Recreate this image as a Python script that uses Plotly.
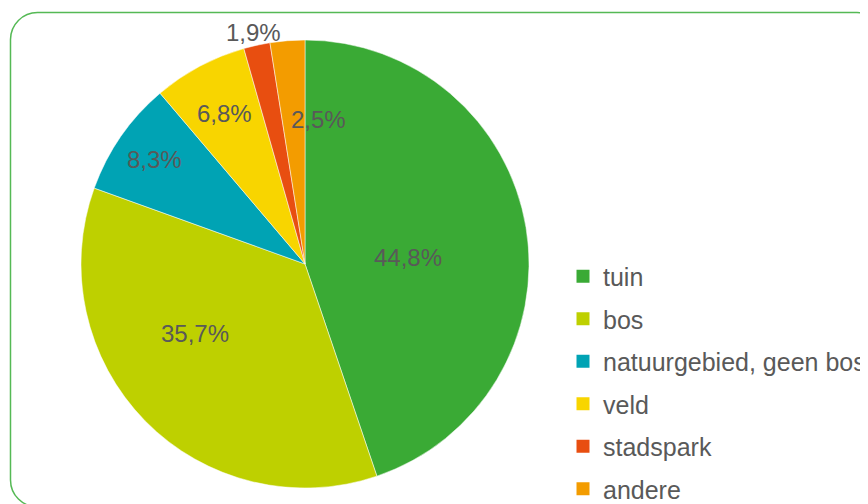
import numpy as np
import plotly.graph_objects as go

# ---- data ----
categories = ["tuin", "bos", "natuurgebied, geen bos", "veld", "stadspark", "andere"]
values = [44.8, 35.7, 8.3, 6.8, 1.9, 2.5]
value_labels = ["44,8%", "35,7%", "8,3%", "6,8%", "1,9%", "2,5%"]
colors = ["#3aaa35", "#bed000", "#00a3b4", "#f8d500", "#e84e10", "#f39c00"]

# ---- style / layout ----
W, H = 868, 504
OFF = 8  # default page body margin: figure starts 8px in from the window edge
CX, CY, R = 305 - OFF, 264 - OFF, 224
label_r = [0.46, 0.58, 0.82, 0.76, 1.06, 0.65]      # radial position of labels
label_dangle = [6, 12, 0, 0, 0, 10]                 # angular nudge (deg)
TEXT_COLOR = "#595959"
FONT = "Liberation Sans, Arial, Helvetica, sans-serif"

fig = go.Figure()

fig.add_trace(go.Pie(
    labels=categories,
    values=values,
    sort=False,
    direction="clockwise",
    rotation=0,
    marker=dict(colors=colors, line=dict(color="white", width=0.5)),
    textinfo="none",
    showlegend=False,
    hoverinfo="label+percent",
    domain=dict(x=[(CX - R) / W, (CX + R) / W], y=[1 - (CY + R) / H, 1 - (CY - R) / H]),
))

# legend entries (one group each so spacing can be tuned)
for cat, col in zip(categories, colors):
    fig.add_trace(go.Scatter(
        x=[None], y=[None], mode="markers", name=cat, legendgroup=cat,
        marker=dict(symbol="square", size=13, color=col),
        hoverinfo="skip",
    ))

# data labels at slice angles
total = float(np.sum(values))
cum = np.cumsum([0] + list(values))
annotations = []
for i, txt in enumerate(value_labels):
    mid = (cum[i] + cum[i + 1]) / 2 / total * 360 + label_dangle[i]
    a = np.deg2rad(mid)
    px = CX + R * label_r[i] * np.sin(a)
    py = CY - R * label_r[i] * np.cos(a)
    annotations.append(dict(
        x=px / W, y=1 - py / H, xref="paper", yref="paper",
        text=txt, showarrow=False, xanchor="center", yanchor="middle",
        font=dict(size=24, color=TEXT_COLOR, family=FONT),
    ))

# rounded border
L, T, Rr, B, rad = 10.5 - OFF, 12.5 - OFF, 884 - OFF, 507 - OFF, 27
k = 0.5523 * rad
def P(x, y):
    return f"{x / W:.5f},{1 - y / H:.5f}"
path = (
    f"M {P(L + rad, T)} L {P(Rr - rad, T)} "
    f"C {P(Rr - rad + k, T)} {P(Rr, T + rad - k)} {P(Rr, T + rad)} "
    f"L {P(Rr, B - rad)} "
    f"C {P(Rr, B - rad + k)} {P(Rr - rad + k, B)} {P(Rr - rad, B)} "
    f"L {P(L + rad, B)} "
    f"C {P(L + rad - k, B)} {P(L, B - rad + k)} {P(L, B - rad)} "
    f"L {P(L, T + rad)} "
    f"C {P(L, T + rad - k)} {P(L + rad - k, T)} {P(L + rad, T)} Z"
)

fig.update_layout(
    width=W, height=H,
    margin=dict(l=0, r=0, t=0, b=0),
    paper_bgcolor="white", plot_bgcolor="white",
    font=dict(family=FONT, color=TEXT_COLOR),
    xaxis=dict(visible=False), yaxis=dict(visible=False),
    annotations=annotations,
    shapes=[dict(type="path", path=path, xref="paper", yref="paper",
                 line=dict(color="#55b955", width=1.5), layer="below")],
    legend=dict(
        x=(603 - OFF - 40) / W, xanchor="left",
        y=1 - (253.5 - OFF) / H, yanchor="top",
        font=dict(size=25, color=TEXT_COLOR, family=FONT),
        tracegroupgap=7, bgcolor="rgba(0,0,0,0)",
        itemclick=False, itemdoubleclick=False,
    ),
)

fig.write_html("out.html", config=dict(displayModeBar=False))
